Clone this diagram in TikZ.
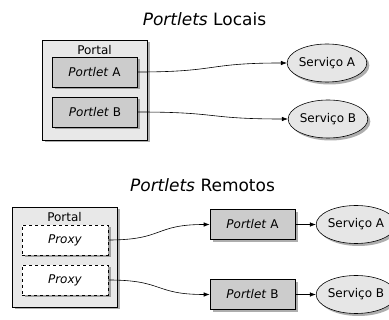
\documentclass[tikz,border=0pt]{standalone}
\usepackage{fontspec}
\setmainfont{DejaVu Sans}
\usetikzlibrary{shadows,arrows.meta,shapes.geometric}
\definecolor{portalfill}{HTML}{E8E8E8}
\definecolor{boxfill}{HTML}{CCCCCC}
\definecolor{svcfill}{HTML}{E6E6E6}
\tikzset{
  shade/.style={drop shadow={shadow xshift=2.5pt,shadow yshift=-2.5pt,opacity=0.45,fill=black!70}},
  container/.style={draw=black,fill=portalfill,line width=0.7pt,shade},
  portlet/.style={draw=black,fill=boxfill,line width=0.6pt,shade,minimum width=85pt,minimum height=30pt,inner sep=0pt,font=\fontsize{12}{14}\selectfont},
  proxybox/.style={draw=black,fill=white,dashed,line width=0.6pt,shade,minimum width=86pt,minimum height=30pt,inner sep=0pt,font=\fontsize{12}{14}\selectfont},
  service/.style={ellipse,draw=black,fill=svcfill,line width=0.6pt,shade,minimum width=75pt,minimum height=38pt,inner sep=0pt,font=\fontsize{12}{14}\selectfont},
  heading/.style={font=\fontsize{17}{20}\selectfont,anchor=base,inner sep=0pt},
  caption/.style={font=\fontsize{12}{14}\selectfont,inner sep=0pt},
  link/.style={-{Latex[length=6pt,width=4.5pt]},line width=0.6pt},
  bend link/.style={link,out=0,in=180,looseness=1.4},
}
\begin{document}
\begin{tikzpicture}[x=1pt,y=-1pt]
\useasboundingbox (0,0) rectangle (389,320);

% local portlets
\node[heading] (t1) at (204.5,26) {\textit{Portlets} Locais};
\draw[container] (42,40) rectangle (147,140);
\node[caption] (p1) at (94.5,50) {Portal};
\node[portlet] (la) at (94.5,72) {\textit{Portlet} A};
\node[portlet] (lb) at (95,112) {\textit{Portlet} B};
\node[service] (sa) at (327,63) {Serviço A};
\node[service] (sb) at (328,119) {Serviço B};
\draw[bend link] (la.east) to (sa.west);
\draw[bend link] (lb.east) to (sb.west);

% remote portlets
\node[heading] (t2) at (202.5,192) {\textit{Portlets} Remotos};
\draw[container] (12,207) rectangle (117,307);
\node[caption] (p2) at (64.5,217) {Portal};
\node[proxybox] (xa) at (65,240) {\textit{Proxy}};
\node[proxybox] (xb) at (65,280) {\textit{Proxy}};
\node[portlet] (ra) at (252.5,224.5) {\textit{Portlet} A};
\node[portlet] (rb) at (252.5,294.5) {\textit{Portlet} B};
\node[service] (ta) at (356,224.5) {Serviço A};
\node[service] (tb) at (356,294.5) {Serviço B};
\draw[bend link] (xa.east) to (ra.west);
\draw[bend link] (xb.east) to (rb.west);
\draw[link] (ra.east) -- (ta.west);
\draw[link] (rb.east) -- (tb.west);
\end{tikzpicture}
\end{document}
